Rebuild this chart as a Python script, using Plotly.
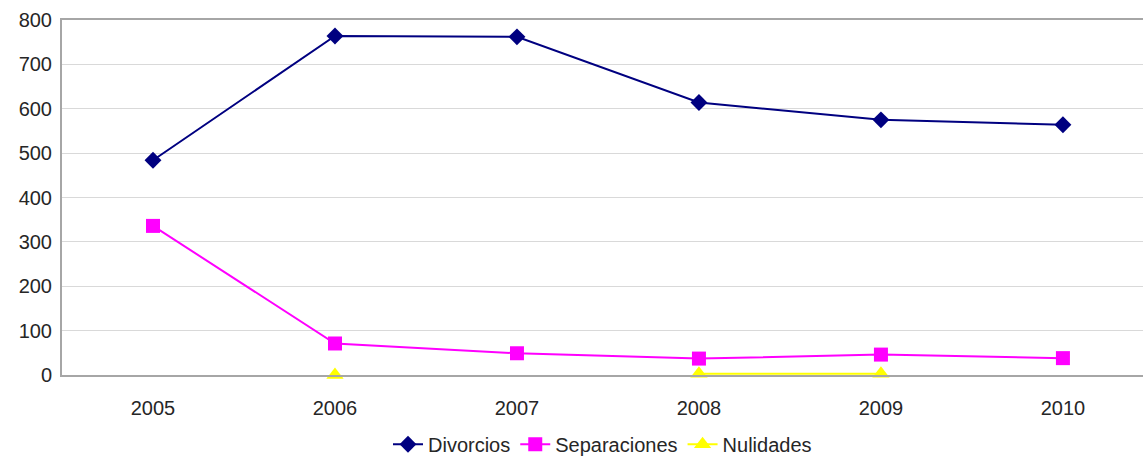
import plotly.graph_objects as go

# Datos
anios = ['2005', '2006', '2007', '2008', '2009', '2010']
divorcios = [484, 764, 762, 614, 575, 564]
separaciones = [336, 71, 49, 37, 46, 38]
nulidades = [None, 0, None, 3, 3, None]

COLORS = {
    'div': '#000080',
    'sep': '#FF00FF',
    'nul': '#FFFF00',
    'grid': '#d9d9d9',
    'axis': '#a6a6a6',
    'text': '#262626',
}

fig = go.Figure()
fig.add_trace(go.Scatter(
    x=anios, y=divorcios, name='Divorcios', mode='lines+markers',
    line=dict(color=COLORS['div'], width=2),
    marker=dict(symbol='diamond', size=13, color=COLORS['div']),
))
fig.add_trace(go.Scatter(
    x=anios, y=separaciones, name='Separaciones', mode='lines+markers',
    line=dict(color=COLORS['sep'], width=2),
    marker=dict(symbol='square', size=14, color=COLORS['sep']),
))
fig.add_trace(go.Scatter(
    x=anios, y=nulidades, name='Nulidades', mode='lines+markers',
    connectgaps=False,
    line=dict(color=COLORS['nul'], width=2),
    marker=dict(symbol='triangle-up', size=15, color=COLORS['nul']),
    cliponaxis=False,
))

fig.update_layout(
    width=1143, height=457,
    plot_bgcolor='white', paper_bgcolor='white',
    font=dict(family='Liberation Sans, Arial', size=20, color=COLORS['text']),
    margin=dict(l=62, r=0, t=20, b=82, autoexpand=False),
    showlegend=True,
    legend=dict(orientation='h', x=0.5, xanchor='center', y=-0.14, yanchor='top',
                font=dict(size=20), tracegroupgap=0),
    xaxis=dict(
        type='category', range=[-0.5, 5.44],
        showgrid=False, showline=True, linecolor=COLORS['axis'], linewidth=2,
        mirror=True, ticks='', ticklabelstandoff=14,
    ),
    yaxis=dict(
        range=[0, 800], dtick=100,
        showgrid=True, gridcolor=COLORS['grid'], gridwidth=1,
        showline=True, linecolor=COLORS['axis'], linewidth=2,
        zeroline=False, ticks='', ticklabelstandoff=4,
    ),
)

fig.write_html('out.html', config={'displayModeBar': False},
               post_script="document.body.style.margin='0';document.body.style.overflow='hidden';")
